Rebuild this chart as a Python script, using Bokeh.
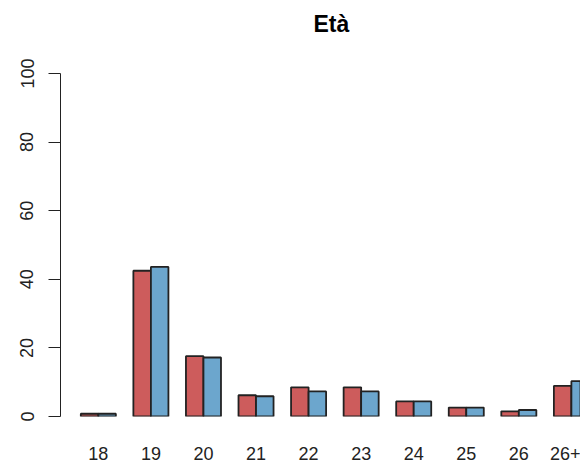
from bokeh.plotting import figure
from bokeh.models import Range1d, FixedTicker, ColumnDataSource, Title
from bokeh.embed import file_html
from bokeh.resources import INLINE

title_text = "Età"
categories = ["18", "19", "20", "21", "22", "23", "24", "25", "26", "26+"]
series_a = [0.8, 42.5, 17.6, 6.2, 8.5, 8.5, 4.4, 2.6, 1.5, 8.9]
series_b = [0.8, 43.6, 17.2, 5.9, 7.3, 7.3, 4.4, 2.6, 1.9, 10.3]
y_ticks = [0, 20, 40, 60, 80, 100]

# R barplot(beside=TRUE) geometry: bar width 1, space c(0,1)
n = len(categories)
pos_a = [1.5 + 3 * i for i in range(n)]
pos_b = [2.5 + 3 * i for i in range(n)]
centers = [2.0 + 3 * i for i in range(n)]

p = figure(width=580, height=462, output_backend="svg", toolbar_location=None,
           x_range=Range1d(-0.16, 29.52), y_range=Range1d(0, 100),
           min_border_left=60, min_border_right=0, min_border_top=73,
           min_border_bottom=45)

p.title.text = title_text
p.title.align = "left"
p.title.offset = 253
p.title.standoff = 0
p.title.text_color = "#000000"
p.title.text_font = "Liberation Sans"
p.title.text_font_size = "23px"
p.title.text_font_style = "bold"

# empty spacer between the title and the plot area
p.add_layout(Title(text=" ", text_font_size="4px", standoff=30), "above")

src_a = ColumnDataSource(dict(x=pos_a, top=series_a))
src_b = ColumnDataSource(dict(x=pos_b, top=series_b))
p.vbar(x="x", top="top", bottom=0, width=1, source=src_a,
       fill_color="#CD5C5C", line_color="#222222", line_width=1.8)
p.vbar(x="x", top="top", bottom=0, width=1, source=src_b,
       fill_color="#6CA6CD", line_color="#222222", line_width=1.8)

p.outline_line_color = None
p.xgrid.visible = False
p.ygrid.visible = False
p.background_fill_color = "white"

xa = p.xaxis[0]
xa.ticker = FixedTicker(ticks=centers)
xa.major_label_overrides = {c: lab for c, lab in zip(centers, categories)}
xa.axis_line_color = None
xa.major_tick_line_color = None
xa.minor_tick_line_color = None
xa.major_label_standoff = 24
xa.major_label_text_font = "Liberation Sans"
xa.major_label_text_font_size = "18px"
xa.major_label_text_color = "#222222"

ya = p.yaxis[0]
ya.ticker = FixedTicker(ticks=y_ticks)
ya.axis_line_color = "#222222"
ya.major_tick_line_color = "#222222"
ya.major_tick_out = 12
ya.major_tick_in = 0
ya.minor_tick_line_color = None
ya.major_label_orientation = "vertical"
ya.major_label_standoff = 15
ya.major_label_text_font = "Liberation Sans"
ya.major_label_text_font_size = "18px"
ya.major_label_text_color = "#222222"

open("out.html", "w").write(file_html(p, INLINE))
